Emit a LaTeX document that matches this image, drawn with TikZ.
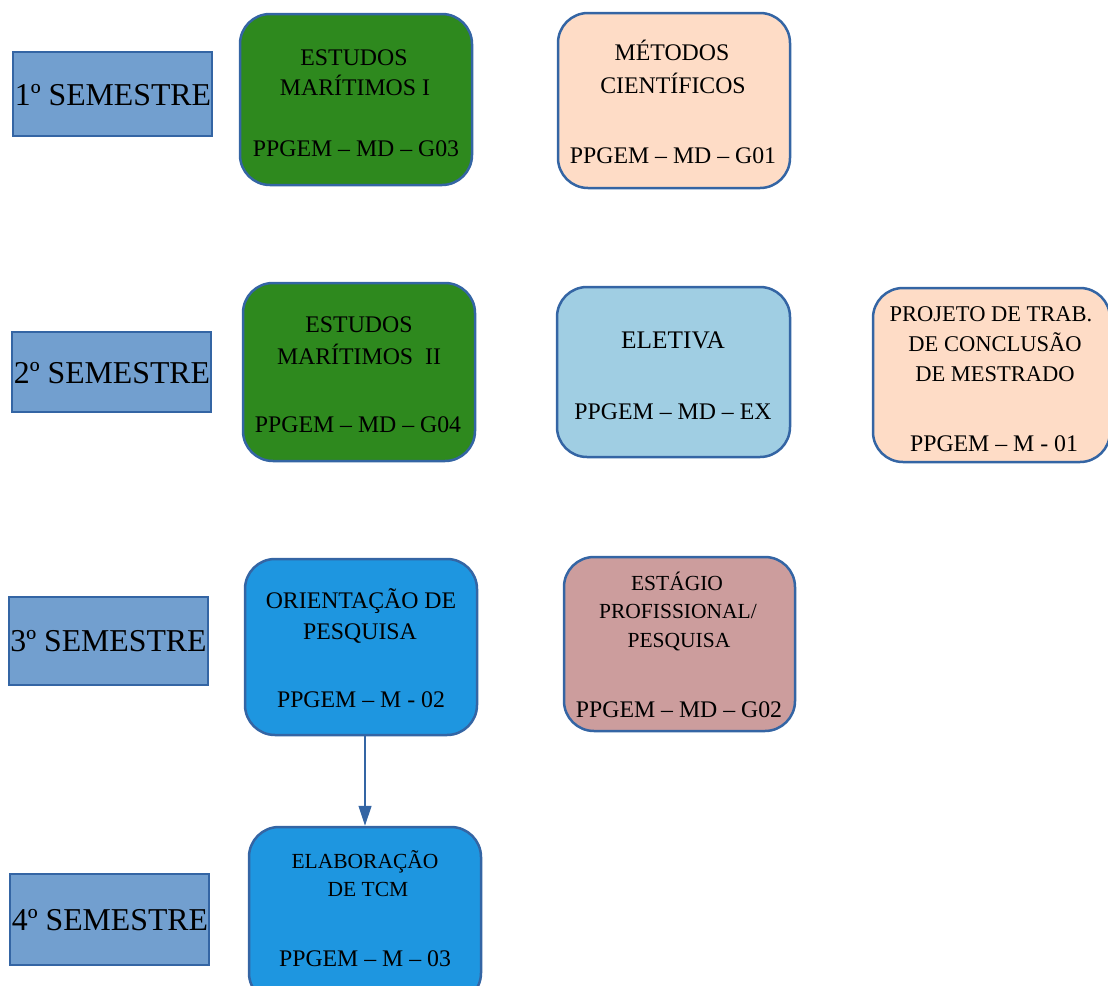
\documentclass[tikz,border=0pt]{standalone}
\usepackage{fontspec}
\setmainfont{Liberation Serif}
\usetikzlibrary{arrows.meta}
\definecolor{semfill}{RGB}{114,159,207}
\definecolor{edge}{RGB}{52,101,164}
\definecolor{green1}{RGB}{46,137,30}
\definecolor{peach}{RGB}{254,220,198}
\definecolor{lblue}{RGB}{160,206,227}
\definecolor{blue1}{RGB}{30,150,224}
\definecolor{rose}{RGB}{204,157,157}
\tikzset{
  sembox/.style={draw=edge, fill=semfill, line width=2.5pt, rectangle, inner sep=0pt, minimum width=#1},
  cbox/.style={draw=edge, line width=2.5pt, rectangle, rounded corners=30pt, inner sep=0pt},
  txt/.style={anchor=base, inner sep=0pt, font=\fontsize{23.8}{28}\selectfont},
  semtxt/.style={anchor=base, inner sep=0pt, font=\fontsize{31.8}{36}\selectfont},
  arr/.style={draw=edge, line width=1.2pt, -{Triangle[length=20pt,width=13pt]}}
}
\begin{document}
\begin{tikzpicture}[x=1pt,y=-1pt]
\useasboundingbox (0,0) rectangle (1108,985);
\clip (0,0) rectangle (1108,985);
% semester boxes
\node[sembox=199pt, minimum height=84pt] (s1) at (112.5,94) {};
\node[sembox=199pt, minimum height=80pt] (s2) at (111.5,372) {};
\node[sembox=199pt, minimum height=88pt] (s3) at (108.5,641) {};
\node[sembox=199pt, minimum height=91pt] (s4) at (109.5,919.5) {};
\node[semtxt] (s1t) at (113,105.5) {1º SEMESTRE};
\node[semtxt] (s2t) at (112,383.5) {2º SEMESTRE};
\node[semtxt] (s3t) at (108.5,651.5) {3º SEMESTRE};
\node[semtxt] (s4t) at (110,930.5) {4º SEMESTRE};
% course boxes
\node[cbox, fill=green1, minimum width=232pt, minimum height=171pt] (g03) at (356,99.5) {};
\node[cbox, fill=peach, minimum width=232pt, minimum height=175pt] (g01) at (674,100.5) {};
\node[cbox, fill=green1, minimum width=232pt, minimum height=178pt] (g04) at (359,372) {};
\node[cbox, fill=lblue, minimum width=233pt, minimum height=170pt] (ex) at (673.5,372) {};
\node[cbox, fill=peach, minimum width=237pt, minimum height=174pt] (m01) at (991.5,375) {};
\node[cbox, fill=blue1, minimum width=232pt, minimum height=176pt] (m02) at (361,647) {};
\node[cbox, fill=rose, minimum width=231pt, minimum height=174pt] (g02) at (679.5,644) {};
\node[cbox, fill=blue1, minimum width=232pt, minimum height=176pt] (m03) at (365,915) {};
% texts
\node[txt] (g03a) at (354,65) {ESTUDOS};
\node[txt] (g03b) at (355,95) {MARÍTIMOS I};
\node[txt] (g03c) at (356,156) {PPGEM – MD – G03};
\node[txt] (g01a) at (672,60) {MÉTODOS};
\node[txt] (g01b) at (673,93) {CIENTÍFICOS};
\node[txt] (g01c) at (673,163) {PPGEM – MD – G01};
\node[txt] (g04a) at (359,332) {ESTUDOS};
\node[txt] (g04b) at (359,364) {MARÍTIMOS\ \ II};
\node[txt] (g04c) at (358,432) {PPGEM – MD – G04};
\node[txt, font=\fontsize{25.3}{30}\selectfont] (exa) at (673,348.5) {ELETIVA};
\node[txt] (exc) at (673,419) {PPGEM – MD – EX};
\node[txt, font=\fontsize{22.5}{27}\selectfont] (m01a) at (991,321.5) {PROJETO DE TRAB.};
\node[txt, font=\fontsize{22.5}{27}\selectfont] (m01b) at (995,351.5) {DE CONCLUSÃO};
\node[txt, font=\fontsize{22.5}{27}\selectfont] (m01c) at (995,381.5) {DE MESTRADO};
\node[txt] (m01d) at (994,451) {PPGEM – M - 01};
\node[txt] (m02a) at (361,608) {ORIENTAÇÃO DE};
\node[txt] (m02b) at (360,639) {PESQUISA};
\node[txt] (m02c) at (361,707) {PPGEM – M - 02};
\node[txt, font=\fontsize{21.5}{26}\selectfont] (g02a) at (677,590) {ESTÁGIO};
\node[txt, font=\fontsize{21.5}{26}\selectfont] (g02b) at (678,618) {PROFISSIONAL/};
\node[txt, font=\fontsize{21.5}{26}\selectfont] (g02c) at (679,647) {PESQUISA};
\node[txt] (g02d) at (679,717) {PPGEM – MD – G02};
\node[txt, font=\fontsize{21.5}{26}\selectfont] (m03a) at (365,868) {ELABORAÇÃO};
\node[txt, font=\fontsize{21.5}{26}\selectfont] (m03b) at (368,896) {DE TCM};
\node[txt] (m03c) at (365,966) {PPGEM – M – 03};
% connector
\draw[arr] (m02.south -| m03.north) -- (m03.north);
\end{tikzpicture}
\end{document}
